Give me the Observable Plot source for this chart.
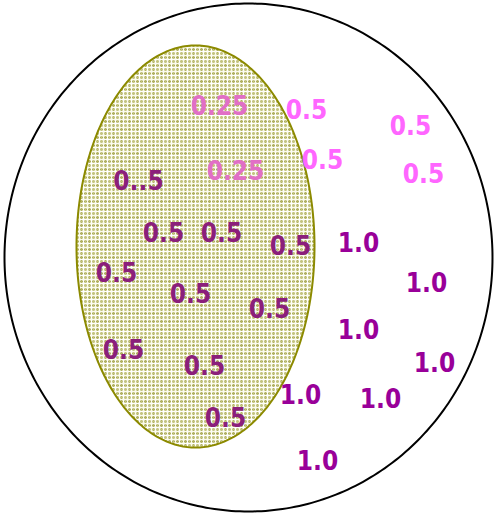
<!DOCTYPE html>
<html><head><meta charset="utf-8">
<script src="https://cdn.jsdelivr.net/npm/d3@7"></script>
<script src="https://cdn.jsdelivr.net/npm/@observablehq/plot@0.6"></script>
<style>html,body{margin:0;padding:0;background:#fff;} #chart svg{display:block}</style>
</head><body><div id="chart"></div>
<script>
// Labels (text, position in diagram units, group)
const labelText  = ["0.25","0.5","0.5","0.25","0.5","0.5",
                    "0..5","0.5","0.5","0.5","0.5","0.5","0.5","0.5","0.5","0.5",
                    "1.0","1.0","1.0","1.0","1.0","1.0","1.0"];
const labelX     = [219,306,410,235,322,423,
                    138,163,221,290,116,190,269,123,204,225,
                    358,426,358,434,300,380,317];
const labelY     = [105,109,125,170,159,173,
                    180,232,232,245,272,293,308,349,365,417,
                    242,282,329,362,394,398,460];
const labelGroup = ["pinkIn","pinkOut","pinkOut","pinkIn","pinkOut","pinkOut",
                    "half","half","half","half","half","half","half","half","half","half",
                    "one","one","one","one","one","one","one"];
const groupNames  = ["pinkOut","pinkIn","half","one"];
const groupColors = ["#ff66ff","#e16fc6","#8b1f7b","#990099"];

// Ellipses
const ellipseNames = ["outer","inner"];
const ellipseCx = [248,195];
const ellipseCy = [257,246];
const ellipseRx = [244,119];
const ellipseRy = [254,201];

const labels = labelText.map((t,i)=>({t, x:labelX[i], y:labelY[i], g:labelGroup[i]}));

function ring(i){
  return d3.range(0,361,1).map(a=>{
    const r = a*Math.PI/180;
    return {x: ellipseCx[i]+ellipseRx[i]*Math.cos(r), y: ellipseCy[i]+ellipseRy[i]*Math.sin(r)};
  });
}
function band(i){
  return d3.range(180,-1,-1).map(a=>{
    const r = a*Math.PI/180;
    return {x: ellipseCx[i]+ellipseRx[i]*Math.cos(r),
            y1: ellipseCy[i]-ellipseRy[i]*Math.sin(r),
            y2: ellipseCy[i]+ellipseRy[i]*Math.sin(r)};
  });
}

const plot = Plot.plot({
  width: 495, height: 514,
  margin: 0,
  x: {domain:[0,495], range:[0,495], axis:null},
  y: {domain:[0,514], range:[0,514], axis:null},
  color: {domain: groupNames, range: groupColors},
  marks: [
    Plot.line(ring(0), {x:"x", y:"y", stroke:"#000", strokeWidth:2}),
    Plot.areaY(band(1), {x:"x", y1:"y1", y2:"y2", fill:"url(#hatch)"}),
    Plot.line(ring(1), {x:"x", y:"y", stroke:"#8c8a00", strokeWidth:2}),
    Plot.text(labels, {x:"x", y:"y", text:"t", fill:"g", fontSize:26, fontWeight:"bold",
      fontFamily:"DejaVu Sans Condensed", textAnchor:"middle", lineAnchor:"middle", dy:1})
  ]
});

const defs = `<defs><pattern id="hatch" patternUnits="userSpaceOnUse" width="8" height="8">
  <rect width="8" height="8" fill="#dcdcae"/>
  <rect x="0" y="1" width="8" height="1" fill="#acac5c"/>
  <rect x="1" y="0" width="1" height="8" fill="#b2b266"/>
  <rect x="0" y="5" width="8" height="1" fill="#c4c482"/>
  <rect x="5" y="0" width="1" height="8" fill="#c4c482"/>
  <rect x="0" y="3" width="8" height="1" fill="#ffffff"/>
  <rect x="3" y="0" width="1" height="8" fill="#ffffff"/>
  <rect x="7" y="0" width="1" height="8" fill="#fbfbee"/>
  <rect x="0" y="7" width="8" height="1" fill="#fbfbee"/>
</pattern></defs>`;
plot.insertAdjacentHTML("afterbegin", defs);
document.getElementById("chart").appendChild(plot);
</script>
</body></html>
